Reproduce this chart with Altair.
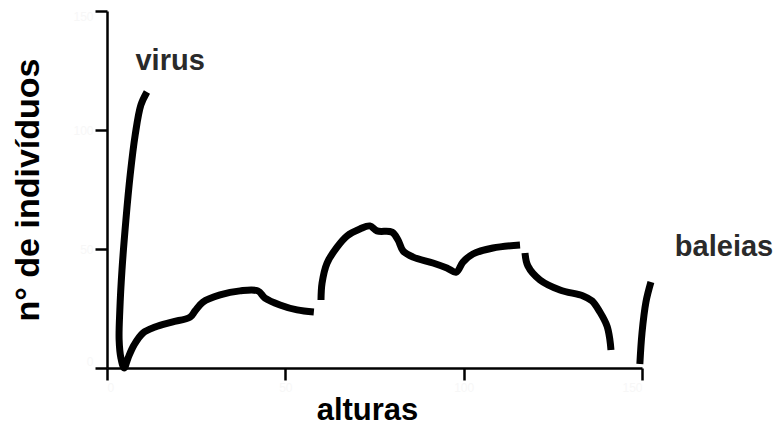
import altair as alt
import pandas as pd

# curve pieces (x = altura, y = nº de indivíduos)
seg1_x = [11.2, 9.5, 7.9, 6.5, 5.3, 4.2, 3.6, 3.4, 3.9, 4.8, 5.9, 7.6, 10.1, 13.5, 18.2,
          23.3, 24.7, 26.9, 31.7, 37.3, 42.3, 44.3, 48.5, 53.3, 58.0]
seg1_y = [116.0, 110.5, 97.9, 81.1, 62.2, 41.2, 24.4, 11.8, 4.2, 0.0, 4.2, 9.7, 14.7, 17.2, 19.3,
          21.4, 24.0, 27.7, 30.7, 32.4, 32.4, 29.4, 26.5, 24.4, 23.5]
seg2_x = [60.0, 60.3, 61.7, 64.5, 67.3, 70.9, 73.7, 75.7, 79.9, 81.6, 83.0, 85.8, 91.4, 95.3,
          97.9, 99.8, 102.6, 108.2, 115.8]
seg2_y = [28.6, 35.7, 44.1, 50.8, 55.5, 58.4, 59.7, 57.6, 57.1, 53.8, 49.2, 46.6, 44.1, 42.0,
          40.3, 44.5, 47.9, 50.4, 51.7]
seg3_x = [117.2, 118.0, 121.4, 127.0, 133.5, 136.0, 138.2, 140.2, 141.0, 141.3]
seg3_y = [48.3, 42.9, 37.0, 32.8, 30.3, 28.2, 23.5, 17.6, 11.8, 7.6]
seg4_x = [149.4, 150.0, 151.1, 152.5]
seg4_y = [1.7, 14.7, 27.7, 36.1]

label_text = ["virus", "baleias"]
label_x = [17.7, 173.0]
label_y = [129.0, 50.8]

x_ticks = [0, 50, 100, 150]
y_ticks = [0, 50, 100, 150]

rows = []
for name, xs, ys in [("s1", seg1_x, seg1_y), ("s2", seg2_x, seg2_y),
                     ("s3", seg3_x, seg3_y), ("s4", seg4_x, seg4_y)]:
    for i, (a, b) in enumerate(zip(xs, ys)):
        rows.append({"seg": name, "i": i, "x": a, "y": b})
curve = pd.DataFrame(rows)
labels = pd.DataFrame({"t": label_text, "x": label_x, "y": label_y})

W, H = 535, 357

xs = alt.Scale(domain=[0, 150], nice=False, zero=False)
ys = alt.Scale(domain=[0, 150], nice=False, zero=False)

axis_common = dict(
    grid=False, domainColor="black", domainWidth=2.5, tickColor="black",
    tickWidth=2.5, tickSize=12, labelColor="#f7f7f7", labelFontSize=12,
    labelFont="Liberation Sans", titleFont="Liberation Sans", titleFontWeight="bold",
    titleColor="black", titleBaseline="middle", titleAlign="center",
)

lines = alt.Chart(curve).mark_line(
    color="black", strokeWidth=7, interpolate="catmull-rom", strokeCap="butt"
).encode(
    x=alt.X("x:Q", scale=xs, axis=alt.Axis(values=x_ticks, title="alturas",
                                            titleFontSize=31,
                                            titleX=W * 0.486, titleY=42, **axis_common)),
    y=alt.Y("y:Q", scale=ys, axis=alt.Axis(values=y_ticks, title="n° de indivíduos",
                                            titleFontSize=34, labelFlush=True,
                                            titleAngle=270, titleX=-79, titleY=H / 2,
                                            **axis_common)),
    detail="seg:N",
    order="i:Q",
)

text = alt.Chart(labels).mark_text(
    font="Liberation Sans", fontSize=29, fontWeight="bold", color="#2a2a2a",
    align="center", baseline="middle"
).encode(
    x=alt.X("x:Q", scale=xs),
    y=alt.Y("y:Q", scale=ys),
    text="t:N",
)

chart = alt.layer(lines, text).properties(
    width=W, height=H,
    autosize=alt.AutoSizeParams(type="none"),
    padding={"left": 99, "top": 3, "right": 134, "bottom": 68},
).configure_view(stroke=None)

chart.save("out.html", embed_options={"renderer": "svg", "actions": False})
